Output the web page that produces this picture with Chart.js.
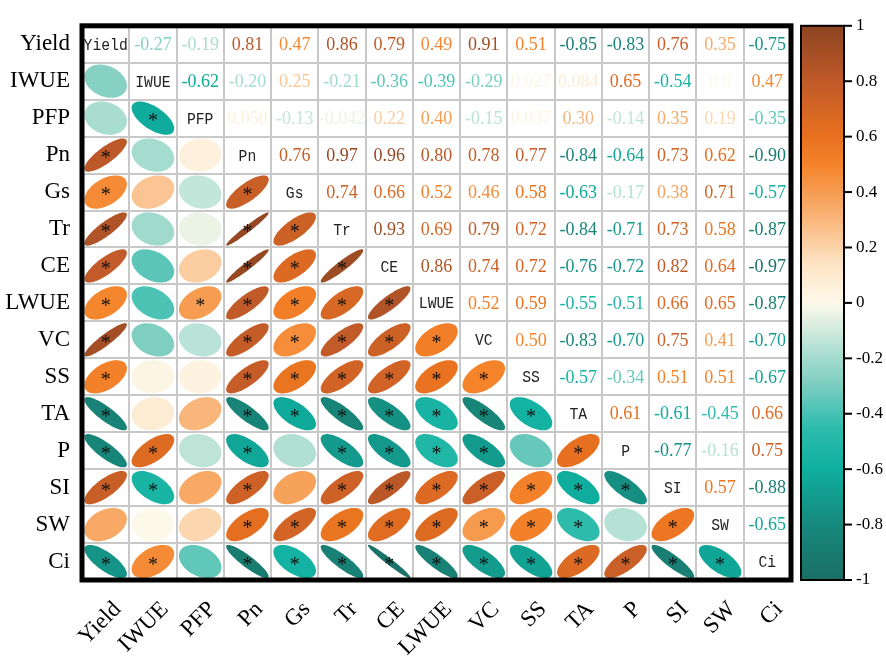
<!DOCTYPE html>
<html lang="en">
<head>
<meta charset="UTF-8">
<title>Correlation matrix</title>
<script src="https://cdn.jsdelivr.net/npm/chart.js"></script>
<style>
  html, body { margin: 0; padding: 0; background: #fff; }
</style>
</head>
<body>
<canvas id="corr" width="886" height="667"></canvas>
<script>
const variables = ['Yield', 'IWUE', 'PFP', 'Pn', 'Gs', 'Tr', 'CE', 'LWUE', 'VC', 'SS', 'TA', 'P', 'SI', 'SW', 'Ci'];

// upper triangle, one array per row (values right of the diagonal)
const rYield = [-0.27, -0.19, 0.81, 0.47, 0.86, 0.79, 0.49, 0.91, 0.51, -0.85, -0.83, 0.76, 0.35, -0.75];
const rIWUE  = [-0.62, -0.20, 0.25, -0.21, -0.36, -0.39, -0.29, 0.027, 0.084, 0.65, -0.54, 0.0, 0.47];
const rPFP   = [0.050, -0.13, -0.042, 0.22, 0.40, -0.15, 0.037, 0.30, -0.14, 0.35, 0.19, -0.35];
const rPn    = [0.76, 0.97, 0.96, 0.80, 0.78, 0.77, -0.84, -0.64, 0.73, 0.62, -0.90];
const rGs    = [0.74, 0.66, 0.52, 0.46, 0.58, -0.63, -0.17, 0.38, 0.71, -0.57];
const rTr    = [0.93, 0.69, 0.79, 0.72, -0.84, -0.71, 0.73, 0.58, -0.87];
const rCE    = [0.86, 0.74, 0.72, -0.76, -0.72, 0.82, 0.64, -0.97];
const rLWUE  = [0.52, 0.59, -0.55, -0.51, 0.66, 0.65, -0.87];
const rVC    = [0.50, -0.83, -0.70, 0.75, 0.41, -0.70];
const rSS    = [-0.57, -0.34, 0.51, 0.51, -0.67];
const rTA    = [0.61, -0.61, -0.45, 0.66];
const rP     = [-0.77, -0.16, 0.75];
const rSI    = [0.57, -0.88];
const rSW    = [-0.65];
const rCi    = [];
const upperRows = [rYield, rIWUE, rPFP, rPn, rGs, rTr, rCE, rLWUE, rVC, rSS, rTA, rP, rSI, rSW, rCi];

const colorbarTicks = [1, 0.8, 0.6, 0.4, 0.2, 0, -0.2, -0.4, -0.6, -0.8, -1];
const sigLevel = 0.40; // |r| at which a star is shown

// colour ramp: teal - cream - orange - brown
const cmapStops = [
    [-1.0, '#1b6e64'], [-0.8, '#17897d'], [-0.6, '#0eaf9f'], [-0.45, '#2dbcac'],
    [-0.3, '#7acdc0'], [-0.15, '#b9e3d6'], [0, '#fdf9ea'], [0.15, '#fde2c2'],
    [0.3, '#f9b67a'], [0.5, '#f4832a'], [0.6, '#e8711f'], [0.8, '#c05a29'], [1.0, '#8c4421']
];

function hexToRgb(h) {
    return [parseInt(h.slice(1, 3), 16), parseInt(h.slice(3, 5), 16), parseInt(h.slice(5, 7), 16)];
}

function cmap(v) {
    v = Math.max(-1, Math.min(1, v));
    for (let i = 0; i < cmapStops.length - 1; i++) {
        const [a, ca] = cmapStops[i];
        const [b, cb] = cmapStops[i + 1];
        if (v >= a && v <= b) {
            const t = (v - a) / (b - a);
            const p = hexToRgb(ca), q = hexToRgb(cb);
            const c = p.map((x, k) => Math.round(x + (q[k] - x) * t));
            return `rgb(${c[0]},${c[1]},${c[2]})`;
        }
    }
    return cmapStops[cmapStops.length - 1][1];
}

function fmt(v) {
    return Math.abs(v) >= 0.1 ? v.toFixed(2) : v.toPrecision(2);
}

// build the point lists
const upperPts = [], lowerPts = [], diagPts = [];
variables.forEach((rowName, i) => {
    diagPts.push({ x: rowName, y: rowName, name: rowName });
    upperRows[i].forEach((v, k) => {
        const colName = variables[i + 1 + k];
        upperPts.push({ x: colName, y: rowName, v: v });
        lowerPts.push({ x: rowName, y: colName, v: v });
    });
});

const serif = '"Liberation Serif", "Times New Roman", serif';

const corrPlugin = {
    id: 'corrCells',
    afterDatasetsDraw(chart) {
        const ctx = chart.ctx;
        const xs = chart.scales.x, ys = chart.scales.y;
        const cw = xs.width / variables.length;
        const ch = ys.height / variables.length;
        const rx = cw / 2 * 0.9, ry = ch / 2 * 0.9;

        // lower triangle: ellipses
        const lowerMeta = chart.getDatasetMeta(1);
        lowerMeta.data.forEach((el, k) => {
            const v = lowerPts[k].v;
            const d = Math.acos(v);
            ctx.beginPath();
            for (let s = 0; s <= 72; s++) {
                const t = s / 72 * Math.PI * 2;
                const px = el.x + rx * Math.cos(t + d / 2);
                const py = el.y - ry * Math.cos(t - d / 2);
                if (s === 0) ctx.moveTo(px, py); else ctx.lineTo(px, py);
            }
            ctx.closePath();
            ctx.fillStyle = cmap(v);
            ctx.fill();
            if (Math.abs(v) >= sigLevel) {
                ctx.fillStyle = '#111';
                ctx.font = '20px ' + serif;
                ctx.textAlign = 'center';
                ctx.textBaseline = 'alphabetic';
                ctx.fillText('*', el.x, el.y + 9);
            }
        });

        // upper triangle: coloured numbers
        const upperMeta = chart.getDatasetMeta(0);
        ctx.font = '18px ' + serif;
        ctx.textAlign = 'center';
        ctx.textBaseline = 'middle';
        upperMeta.data.forEach((el, k) => {
            const v = upperPts[k].v;
            ctx.fillStyle = cmap(v);
            ctx.fillText(fmt(v), el.x, el.y + 1);
        });

        // diagonal: variable names
        const diagMeta = chart.getDatasetMeta(2);
        diagMeta.data.forEach((el, k) => {
            ctx.save();
            ctx.beginPath();
            ctx.rect(el.x - cw / 2 + 1, el.y - ch / 2 + 1, cw - 2, ch - 2);
            ctx.clip();
            ctx.translate(el.x, el.y + 1);
            ctx.scale(0.92, 1.08);
            ctx.fillStyle = '#222';
            ctx.font = '16px "Liberation Mono", monospace';
            ctx.textAlign = 'center';
            ctx.textBaseline = 'middle';
            ctx.fillText(diagPts[k].name, 0, 0);
            ctx.restore();
        });
    },
    afterDraw(chart) {
        const ctx = chart.ctx;
        const a = chart.chartArea;
        // heavy frame around the matrix
        ctx.save();
        ctx.strokeStyle = '#000';
        ctx.lineWidth = 5;
        ctx.strokeRect(a.left, a.top, a.right - a.left, a.bottom - a.top);

        // colour bar
        const cb = chart.scales.cb;
        const x0 = 801, x1 = 844;
        const top = cb.getPixelForValue(1), bottom = cb.getPixelForValue(-1);
        const grad = ctx.createLinearGradient(0, top, 0, bottom);
        cmapStops.forEach(([v, c]) => grad.addColorStop((1 - v) / 2, c));
        ctx.fillStyle = grad;
        ctx.fillRect(x0, top, x1 - x0, bottom - top);
        ctx.lineWidth = 2;
        ctx.strokeRect(x0, top, x1 - x0, bottom - top);

        ctx.font = '17px ' + serif;
        ctx.fillStyle = '#000';
        ctx.textAlign = 'left';
        ctx.textBaseline = 'middle';
        colorbarTicks.forEach(t => {
            const y = cb.getPixelForValue(t);
            ctx.beginPath();
            ctx.moveTo(x1, y);
            ctx.lineTo(x1 + 8, y);
            ctx.stroke();
            ctx.fillText(String(t), x1 + 12, y);
        });
        ctx.restore();
    }
};

const gridStyle = { offset: true, color: '#c8c8c8', lineWidth: 2, drawTicks: false };

new Chart(document.getElementById('corr'), {
    type: 'scatter',
    data: {
        datasets: [
            { label: 'upper', data: upperPts },
            { label: 'lower', data: lowerPts },
            { label: 'diag', data: diagPts }
        ]
    },
    options: {
        responsive: false,
        animation: false,
        events: [],
        layout: { padding: { top: 7, right: 95, left: 0, bottom: 0 } },
        elements: { point: { radius: 0, hoverRadius: 0 } },
        plugins: { legend: { display: false }, tooltip: { enabled: false } },
        scales: {
            x: {
                type: 'category',
                labels: variables,
                offset: true,
                grid: gridStyle,
                border: { display: false },
                ticks: {
                    autoSkip: false,
                    minRotation: 45,
                    maxRotation: 45,
                    padding: 16,
                    labelOffset: 12,
                    color: '#000',
                    font: { family: serif, size: 23 }
                },
                afterFit: s => { s.height = 87; }
            },
            y: {
                type: 'category',
                labels: variables,
                offset: true,
                grid: gridStyle,
                border: { display: false },
                ticks: {
                    autoSkip: false,
                    padding: 12,
                    color: '#000',
                    font: { family: serif, size: 23 }
                },
                afterFit: s => { s.width = 82; }
            },
            cb: { type: 'linear', position: 'right', display: false, min: -1, max: 1 }
        }
    },
    plugins: [corrPlugin]
});
</script>
</body>
</html>
